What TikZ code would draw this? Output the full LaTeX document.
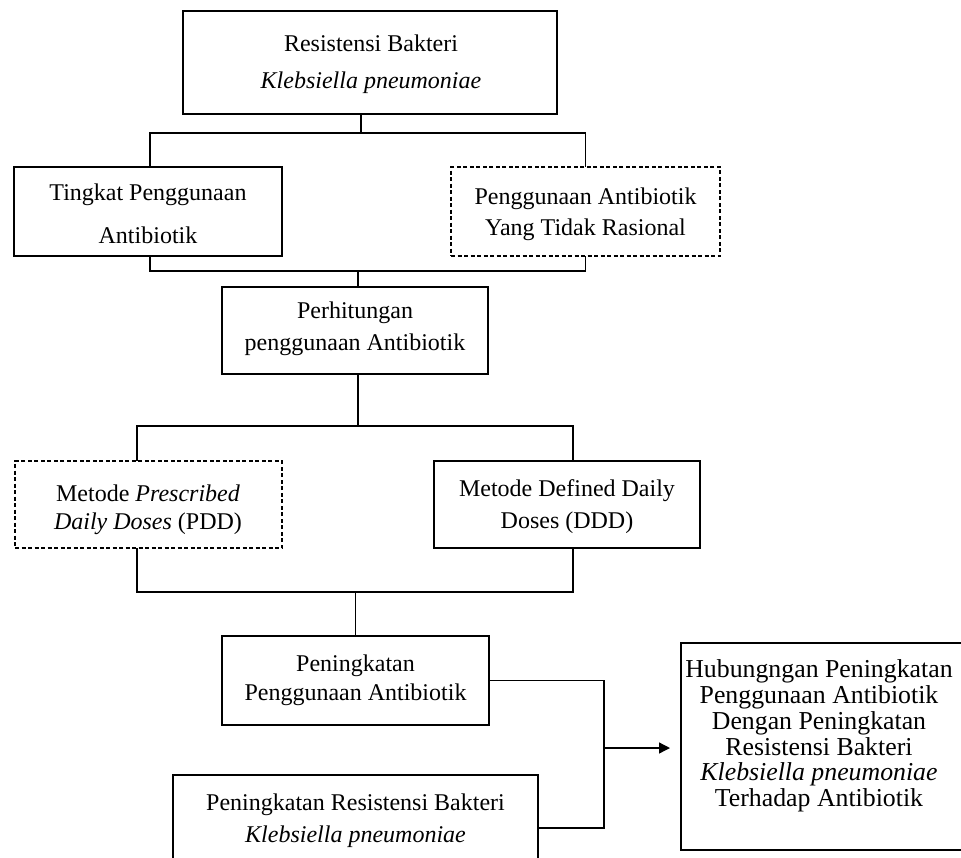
\documentclass[tikz,border=0pt]{standalone}
\usepackage{fontspec}
\setmainfont{Liberation Serif}
\usetikzlibrary{calc,arrows.meta}
\begin{document}
\begin{tikzpicture}[x=1pt,y=-1pt,
  box/.style={draw, line width=1.8pt, minimum width=#1, inner sep=0pt, outer sep=0pt},
  dbox/.style={draw, dashed, dash pattern=on 4pt off 2.5pt, line width=1.6pt, minimum width=#1, inner sep=0pt, outer sep=0pt},
  txt/.style={align=center, inner sep=0pt, font=\fontsize{24}{#1}\selectfont},
  conn/.style={line width=1.3pt},
  arr/.style={line width=1.3pt, -{Triangle[length=11pt,width=11pt]}}]
\useasboundingbox (0,0) rectangle (961,857);

% boxes
\node[box=374pt, minimum height=103pt] (top) at (370,62.5) {};
\node[box=268pt, minimum height=89pt] (tingkat) at (148,211.5) {};
\node[dbox=269pt, minimum height=89pt] (irr) at (585.5,211.5) {};
\node[box=266pt, minimum height=87pt] (perh) at (355,330.5) {};
\node[dbox=267pt, minimum height=87pt] (pdd) at (148.5,504.5) {};
\node[box=266pt, minimum height=87pt] (ddd) at (567,504.5) {};
\node[box=267pt, minimum height=89pt] (pen) at (355.5,680.5) {};
\node[box=365pt, minimum height=95pt] (res) at (355.5,822.5) {};
\node[box=282pt, minimum height=207pt] (rbox) at (822,746.5) {};

% texts
\node[txt=37] (ttop) at (371,64) {Resistensi Bakteri\\\textit{Klebsiella pneumoniae}};
\node[txt=43] (ttingkat) at (148,214) {Tingkat Penggunaan\\Antibiotik};
\node[txt=31] (tirr) at (585.5,214) {Penggunaan Antibiotik\\Yang Tidak Rasional};
\node[txt=32] (tperh) at (355,329) {Perhitungan\\penggunaan Antibiotik};
\node[txt=28] (tpdd) at (148,510) {Metode \textit{Prescribed}\\\textit{Daily Doses} (PDD)};
\node[txt=32] (tddd) at (567,507) {Metode Defined Daily\\Doses (DDD)};
\node[txt=29] (tpen) at (355.5,680) {Peningkatan\\Penggunaan Antibiotik};
\node[txt=32] (tres) at (355.5,821) {Peningkatan Resistensi Bakteri\\\textit{Klebsiella pneumoniae}};
\node[align=center, inner sep=0pt, font=\fontsize{25.8}{25.8}\selectfont] (trbox) at (819,736) {Hubungngan Peningkatan\\Penggunaan Antibiotik\\Dengan Peningkatan\\Resistensi Bakteri\\\textit{Klebsiella pneumoniae}\\Terhadap Antibiotik};

% connectors
\draw[conn] ($(top.south)+(-9,0)$) -- ++(0,19);
\draw[conn] ($(tingkat.north)+(2,0)$) -- ++(0,-34) -| (irr.north);
\draw[conn] ($(tingkat.south)+(2,0)$) -- ++(0,15) -| (irr.south);
\draw[conn] ($(perh.north)+(3,0)$) -- ++(0,-16);
\draw[conn] ($(perh.south)+(3,0)$) -- ++(0,52);
\draw[conn] ($(pdd.north)+(-11.5,0)$) -- ++(0,-35) -| ($(ddd.north)+(6,0)$);
\draw[conn] ($(pdd.south)+(-11.5,0)$) -- ++(0,44) -| ($(ddd.south)+(6,0)$);
\draw[conn] (pen.north) -- ++(0,-44);
\coordinate (j) at (604,748);
\draw[conn] (pen.east) -| (j) |- ($(res.east)+(0,5.5)$);
\draw[arr, shorten >=11pt] (j) -- (j -| rbox.west);
\end{tikzpicture}
\end{document}
